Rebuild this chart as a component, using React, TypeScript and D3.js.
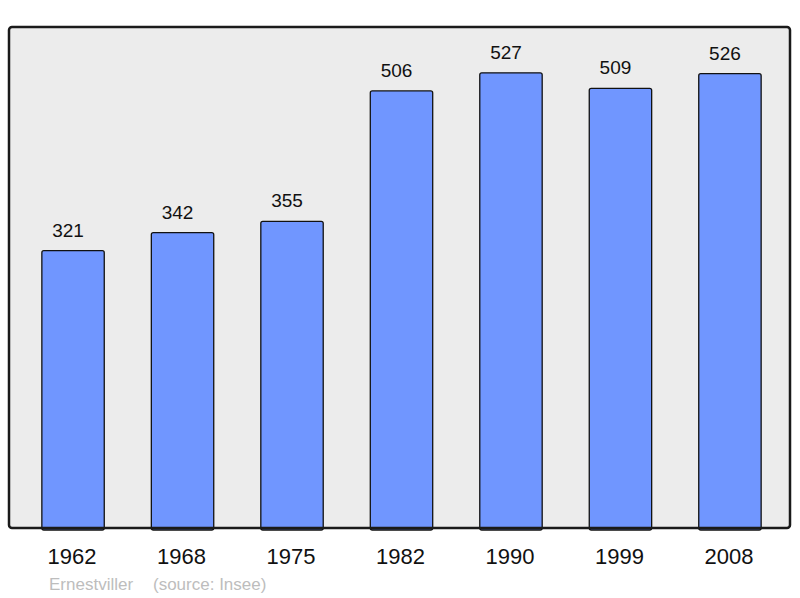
import { useEffect, useRef } from 'react';
import * as d3 from 'd3';

const years = ['1962', '1968', '1975', '1982', '1990', '1999', '2008'];
const population = [321, 342, 355, 506, 527, 509, 526];
const commune = 'Ernestviller';
const source = '(source: Insee)';

const App = () => {
  const svgRef = useRef<SVGSVGElement>(null);

  useEffect(() => {
    const svg = d3.select(svgRef.current);
    svg.selectAll('*').remove();

    const width = 800;
    const height = 598;
    const frame = { left: 9, top: 27, right: 790, bottom: 528 };

    const x = d3.scaleBand()
      .domain(years)
      .range([32, 771])
      .paddingInner(0.43)
      .paddingOuter(0.09);

    const y = d3.scaleLinear()
      .domain([0, 580])
      .range([frame.bottom, frame.top]);

    svg.attr('viewBox', [0, 0, width, height]);

    // background panel
    svg.append('rect')
      .attr('x', frame.left)
      .attr('y', frame.top)
      .attr('width', frame.right - frame.left)
      .attr('height', frame.bottom - frame.top)
      .attr('rx', 3)
      .attr('fill', '#ececec');

    const data = years.map((yr, i) => ({ yr, v: population[i] }));

    // bars
    svg.append('g')
      .selectAll('rect')
      .data(data)
      .join('rect')
        .attr('x', d => x(d.yr)!)
        .attr('y', d => y(d.v))
        .attr('width', x.bandwidth())
        .attr('height', d => y(0) - y(d.v) + 2)
        .attr('rx', 2)
        .attr('fill', '#7096ff')
        .attr('stroke', '#111')
        .attr('stroke-width', 1.3);

    // value labels (sit a little left of the bar centre in the original)
    svg.append('g')
      .selectAll('text')
      .data(data)
      .join('text')
        .attr('x', d => x(d.yr)! + x.bandwidth() / 2 - 5)
        .attr('y', d => y(d.v) - 14)
        .attr('text-anchor', 'middle')
        .attr('font-family', 'Liberation Sans, Arial, sans-serif')
        .attr('font-size', 19)
        .attr('fill', '#111')
        .text(d => d.v);

    // frame on top
    svg.append('rect')
      .attr('x', frame.left)
      .attr('y', frame.top)
      .attr('width', frame.right - frame.left)
      .attr('height', frame.bottom - frame.top)
      .attr('rx', 3)
      .attr('fill', 'none')
      .attr('stroke', '#1a1a1a')
      .attr('stroke-width', 2.5);

    // year axis labels
    svg.append('g')
      .selectAll('text')
      .data(years)
      .join('text')
        .attr('x', d => x(d)! + x.bandwidth() / 2 - 1)
        .attr('y', 564)
        .attr('text-anchor', 'middle')
        .attr('font-family', 'Liberation Sans, Arial, sans-serif')
        .attr('font-size', 22)
        .attr('fill', '#111')
        .text(d => d);

    // footer
    const foot = svg.append('text')
      .attr('y', 590)
      .attr('font-family', 'Liberation Sans, Arial, sans-serif')
      .attr('font-size', 17)
      .attr('fill', '#bdbdbd');
    foot.append('tspan').attr('x', 49).text(commune);
    foot.append('tspan').attr('x', 153).text(source);
  }, []);

  return (
    <div style={{ position: 'absolute', left: 0, top: 0, width: 800, height: 598 }}>
      <svg ref={svgRef} width={800} height={598} style={{ display: 'block' }} />
    </div>
  );
};

export default App;
